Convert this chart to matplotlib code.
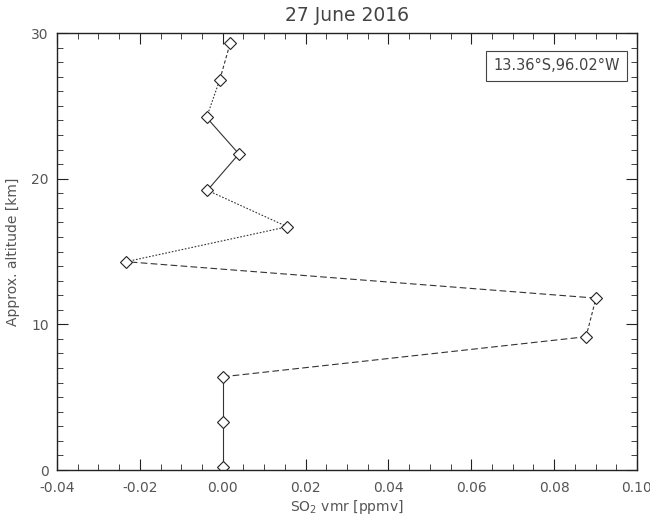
import matplotlib.pyplot as plt
from matplotlib.ticker import MultipleLocator

# SO2 profile values
altitude = [0.2, 3.3, 6.4, 9.15, 11.8, 14.3, 16.7, 19.2, 21.7, 24.2, 26.8, 29.3]
so2_vmr = [0.0, 0.0, 0.0, 0.0877, 0.0901, -0.0233, 0.0156, -0.0037, 0.0039, -0.0039, -0.0007, 0.0018]
segment_styles = ['-', '-', (0, (6, 3)), (0, (3, 2)), (0, (6, 3)), (0, (1.5, 1.5)),
                  (0, (1.5, 1.5)), '-', '-', (0, (1.5, 1.5)), (0, (3, 2))]
location = '13.36°S,96.02°W'
title = '27 June 2016'

fig = plt.figure(figsize=(6.5, 5.19), dpi=100)
ax = fig.add_axes([0.0877, 0.0944, 0.8923, 0.842])

for i, ls in enumerate(segment_styles):
    ax.plot(so2_vmr[i:i + 2], altitude[i:i + 2], color='#333333', lw=0.8, linestyle=ls)
ax.plot(so2_vmr, altitude, linestyle='none', marker='D', markersize=6,
        markerfacecolor='white', markeredgecolor='#222222', markeredgewidth=0.8)

ax.set_xlim(-0.04, 0.10)
ax.set_ylim(0, 30)
ax.xaxis.set_major_locator(MultipleLocator(0.02))
ax.xaxis.set_minor_locator(MultipleLocator(0.005))
ax.yaxis.set_major_locator(MultipleLocator(10))
ax.yaxis.set_minor_locator(MultipleLocator(1))
ax.xaxis.set_major_formatter(plt.FuncFormatter(lambda v, p: f'{v:.2f}'))
ax.tick_params(which='both', direction='in', top=True, right=True, colors='#222222',
               labelcolor='#555555', labelsize=10)
ax.tick_params(axis='x', which='major', length=8, pad=8)
ax.tick_params(axis='y', which='major', length=8, pad=6)
ax.tick_params(which='minor', length=4)
for s in ax.spines.values():
    s.set_color('#222222')
    s.set_linewidth(1.0)

ax.set_xlabel('SO$_2$ vmr [ppmv]', color='#555555', fontsize=10, labelpad=2)
ax.set_ylabel('Approx. altitude [km]', color='#555555', fontsize=10, labelpad=8)
ax.set_title(title, color='#444444', fontsize=13.5, pad=9)

ax.text(0.97, 0.925, location, transform=ax.transAxes, ha='right', va='center',
        fontsize=10.5, color='#444444',
        bbox=dict(boxstyle='square,pad=0.5', facecolor='white', edgecolor='#444444', lw=0.8))

fig.savefig('out.png', dpi=100)
